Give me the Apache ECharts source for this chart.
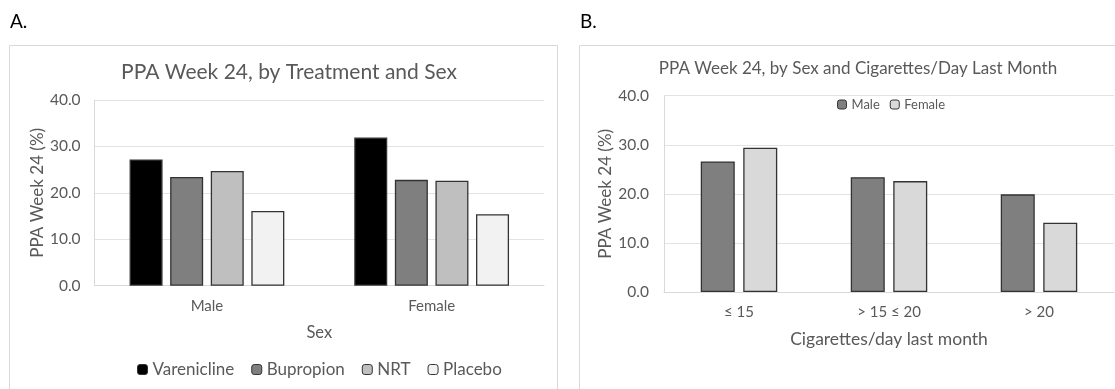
<!DOCTYPE html>
<html><head><meta charset="utf-8">
<script src="https://cdn.jsdelivr.net/npm/echarts@6/dist/echarts.min.js"></script>
<style>html,body{margin:0;padding:0;background:#fff}#c{width:1115px;height:389px}</style>
</head><body><div id="c"></div>
<script>
const sexCats = ['Male', 'Female'];
const treatNames = ['Varenicline', 'Bupropion', 'NRT', 'Placebo'];
const varenicline = [27.2, 31.9];
const bupropion = [23.4, 22.8];
const nrt = [24.7, 22.6];
const placebo = [16.1, 15.4];

const cigCats = ['≤ 15', '> 15 ≤ 20', '> 20'];
const maleB = [26.6, 23.4, 19.9];
const femaleB = [29.4, 22.6, 14.1];

const yTicks = [0, 10, 20, 30, 40];

const F = 'Lato, "Open Sans", sans-serif';
const TXT = '#595959';
const treatColors = ['#000000', '#7f7f7f', '#bfbfbf', '#f2f2f2'];
const treatData = [varenicline, bupropion, nrt, placebo];

const chart = echarts.init(document.getElementById('c'));
const yAxisCommon = {
  type: 'value', min: yTicks[0], max: yTicks[yTicks.length - 1], interval: 10,
  nameLocation: 'middle', nameRotate: 90,
  nameTextStyle: {color: TXT, fontFamily: F, fontSize: 17},
  axisLine: {show: true, lineStyle: {color: '#d9d9d9'}},
  axisTick: {show: false},
  splitLine: {lineStyle: {color: '#e3e3e3'}},
  axisLabel: {color: TXT, fontFamily: F, fontSize: 15.5, formatter: v => v.toFixed(1)}
};
const xAxisCommon = {
  type: 'category', nameLocation: 'middle',
  axisLine: {lineStyle: {color: '#d9d9d9'}},
  axisTick: {show: false},
  axisLabel: {color: TXT, fontFamily: F, fontSize: 15}
};

const series = [];
treatNames.forEach((n, i) => {
  series.push({
    name: n, type: 'bar', xAxisIndex: 0, yAxisIndex: 0,
    data: treatData[i], barWidth: 33, barGap: '23%',
    itemStyle: {color: treatColors[i], borderColor: '#333333', borderWidth: 1.3}
  });
});
series.push({name: 'Male', type: 'bar', xAxisIndex: 1, yAxisIndex: 1, data: maleB,
  barWidth: 34, barGap: '25%', itemStyle: {color: '#7f7f7f', borderColor: '#333333', borderWidth: 1.3}});
series.push({name: 'Female', type: 'bar', xAxisIndex: 1, yAxisIndex: 1, data: femaleB,
  barWidth: 34, barGap: '25%', itemStyle: {color: '#d9d9d9', borderColor: '#333333', borderWidth: 1.3}});

chart.setOption({
  animation: false,
  graphic: [
    {type: 'rect', shape: {x: 9.5, y: 45.5, width: 548, height: 360}, style: {fill: 'none', stroke: '#d9d9d9', lineWidth: 1}, z: -1},
    {type: 'rect', shape: {x: 579.5, y: 45.5, width: 540, height: 360}, style: {fill: 'none', stroke: '#d9d9d9', lineWidth: 1}, z: -1},
    {type: 'text', left: 10, top: 12, style: {text: 'A.', fontSize: 19, fontFamily: F, fill: '#000'}},
    {type: 'text', left: 580, top: 12, style: {text: 'B.', fontSize: 19, fontFamily: F, fill: '#000'}}
  ],
  title: [
    {text: 'PPA Week 24, by Treatment and Sex', left: 284, textAlign: 'center', top: 57,
     textStyle: {color: TXT, fontFamily: F, fontSize: 21, fontWeight: 'normal'}},
    {text: 'PPA Week 24, by Sex and Cigarettes/Day Last Month', left: 853, textAlign: 'center', top: 55,
     textStyle: {color: TXT, fontFamily: F, fontSize: 17, fontWeight: 'normal'}}
  ],
  legend: [
    {data: treatNames, left: 132, top: 356, itemWidth: 10, itemHeight: 10, itemGap: 17,
     textStyle: {color: TXT, fontFamily: F, fontSize: 17},
     itemStyle: {borderColor: '#333333', borderWidth: 1}},
    {data: ['Male', 'Female'], left: 832, top: 93, itemWidth: 9, itemHeight: 9, itemGap: 10,
     textStyle: {color: TXT, fontFamily: F, fontSize: 13},
     itemStyle: {borderColor: '#333333', borderWidth: 1}}
  ],
  grid: [
    {left: 94.6, right: 571, top: 100, bottom: 103.3},
    {left: 664, right: 1, top: 95.7, bottom: 97}
  ],
  xAxis: [
    Object.assign({}, xAxisCommon, {gridIndex: 0, data: sexCats, name: 'Sex', nameGap: 38,
      nameTextStyle: {color: TXT, fontFamily: F, fontSize: 16.5}, axisLabel: Object.assign({}, xAxisCommon.axisLabel, {margin: 13})}),
    Object.assign({}, xAxisCommon, {gridIndex: 1, data: cigCats, name: 'Cigarettes/day last month', nameGap: 38,
      nameTextStyle: {color: TXT, fontFamily: F, fontSize: 17.5}, axisLabel: Object.assign({}, xAxisCommon.axisLabel, {margin: 13})})
  ],
  yAxis: [
    Object.assign({}, yAxisCommon, {gridIndex: 0, name: 'PPA Week 24 (%)', nameGap: 47,
      axisLabel: Object.assign({}, yAxisCommon.axisLabel, {margin: 14})}),
    Object.assign({}, yAxisCommon, {gridIndex: 1, name: 'PPA Week 24 (%)', nameGap: 49,
      axisLabel: Object.assign({}, yAxisCommon.axisLabel, {margin: 15})})
  ],
  series: series
});
</script></body></html>
